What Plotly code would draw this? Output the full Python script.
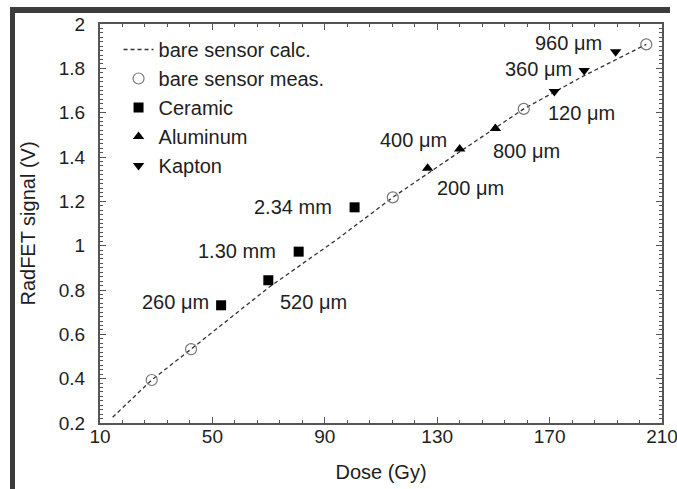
import plotly.graph_objects as go

# ---- data ----
calc_dose = [14.5, 28.4, 42.4, 69.9, 94.2, 114.2, 137.0, 160.8, 182.0, 204.4]
calc_signal = [0.226, 0.394, 0.533, 0.81, 1.027, 1.218, 1.415, 1.617, 1.765, 1.908]

meas_dose = [28.4, 42.4, 114.2, 160.8, 204.4]
meas_signal = [0.394, 0.533, 1.218, 1.617, 1.908]

ceramic_dose = [53.1, 69.9, 80.7, 100.6]
ceramic_signal = [0.731, 0.844, 0.973, 1.173]
ceramic_labels = ["260 μm", "520 μm", "1.30 mm", "2.34 mm"]

aluminum_dose = [126.6, 138.0, 150.7]
aluminum_signal = [1.349, 1.436, 1.529]
aluminum_labels = ["200 μm", "400 μm", "800 μm"]

kapton_dose = [171.7, 182.3, 193.5]
kapton_signal = [1.695, 1.79, 1.875]
kapton_labels = ["120 μm", "360 μm", "960 μm"]

# label anchor positions (data coords)
ceramic_lx = [36.7, 85.8, 58.6, 78.7]
ceramic_ly = [0.747, 0.747, 0.977, 1.175]
aluminum_lx = [141.8, 121.6, 161.6]
aluminum_ly = [1.259, 1.477, 1.429]
kapton_lx = [181.5, 166.1, 176.8]
kapton_ly = [1.597, 1.797, 1.916]

x_ticks = [10, 50, 90, 130, 170, 210]
y_ticks = [0.2, 0.4, 0.6, 0.8, 1.0, 1.2, 1.4, 1.6, 1.8, 2.0]
y_ticktext = ["0.2", "0.4", "0.6", "0.8", "1", "1.2", "1.4", "1.6", "1.8", "2"]

FONT = "Arial, Liberation Sans, sans-serif"
TXT = "#1e1e1e"
AX = "#555555"

fig = go.Figure()
fig.add_trace(go.Scatter(x=calc_dose, y=calc_signal, mode="lines", name="bare sensor calc.",
                         line=dict(color="#333333", width=1.3, dash="4px,3px"), legendgroup="a"))
fig.add_trace(go.Scatter(x=meas_dose, y=meas_signal, mode="markers", name="bare sensor meas.",
                         marker=dict(symbol="circle-open", size=11, color="#777777",
                                     line=dict(width=1.2, color="#777777")), legendgroup="b"))
fig.add_trace(go.Scatter(x=ceramic_dose, y=ceramic_signal, mode="markers", name="Ceramic",
                         marker=dict(symbol="square", size=10, color="#000000"), legendgroup="c"))
fig.add_trace(go.Scatter(x=aluminum_dose, y=aluminum_signal, mode="markers", name="Aluminum",
                         marker=dict(symbol="triangle-up", size=10, color="#000000"), legendgroup="d"))
fig.add_trace(go.Scatter(x=kapton_dose, y=kapton_signal, mode="markers", name="Kapton",
                         marker=dict(symbol="triangle-down", size=10, color="#000000"), legendgroup="e"))

for lx, ly, lab in zip(ceramic_lx + aluminum_lx + kapton_lx,
                       ceramic_ly + aluminum_ly + kapton_ly,
                       ceramic_labels + aluminum_labels + kapton_labels):
    fig.add_annotation(x=lx, y=ly, text=lab, showarrow=False,
                       font=dict(family=FONT, size=20, color=TXT),
                       xanchor="center", yanchor="middle")

# plot area on screen: x 100..662, y 24..423 (body margin removed below)
W, H = 677, 489
L, R, T, B = 100, 662, 24, 423
def px(x):
    return (x - L) / (R - L)
def py(y):
    return (B - y) / (B - T)
frame = "#3c3c3c"
fig.add_shape(type="rect", xref="paper", yref="paper", x0=px(10), x1=px(15), y0=py(500), y1=py(7),
              fillcolor=frame, line_width=0)
fig.add_shape(type="rect", xref="paper", yref="paper", x0=px(10), x1=px(670), y0=py(13), y1=py(7),
              fillcolor=frame, line_width=0)

fig.update_xaxes(range=[10, 210], tickvals=x_ticks, ticks="inside", ticklen=6, tickwidth=1.2,
                 tickcolor=AX, showline=True, linewidth=2, linecolor=AX, mirror="ticks",
                 showgrid=False, zeroline=False, automargin=False, ticklabeloverflow="allow",
                 minor=dict(dtick=8, tick0=10, ticks="inside", ticklen=3, tickcolor=AX, showgrid=False),
                 tickfont=dict(family=FONT, size=19, color=TXT), ticklabelstandoff=-5,
                 title=dict(text="Dose (Gy)", font=dict(family=FONT, size=20, color=TXT), standoff=19))
fig.update_yaxes(range=[0.2, 2.0], tickvals=y_ticks, ticktext=y_ticktext, ticks="inside", ticklen=6,
                 tickwidth=1.2, tickcolor=AX, showline=True, linewidth=2, linecolor=AX, mirror="ticks",
                 showgrid=False, zeroline=False, automargin=False,
                 minor=dict(dtick=0.02, tick0=0.2, ticks="inside", ticklen=3, tickcolor=AX, showgrid=False),
                 tickfont=dict(family=FONT, size=19, color=TXT), ticklabelstandoff=9,
                 title=dict(text="RadFET signal (V)", font=dict(family=FONT, size=20, color=TXT), standoff=18))

fig.update_layout(
    width=W, height=H,
    margin=dict(l=L, r=W - R, t=T, b=H - B),
    paper_bgcolor="white", plot_bgcolor="white",
    font=dict(family=FONT, size=20, color=TXT),
    showlegend=True,
    legend=dict(x=0.033, y=0.985, xanchor="left", yanchor="top", bgcolor="rgba(0,0,0,0)",
                font=dict(family=FONT, size=20, color=TXT), tracegroupgap=0, itemwidth=30),
)

fig.write_html("out.html", config={"displayModeBar": False},
               post_script="document.body.style.margin='0';document.body.style.overflow='hidden';")
